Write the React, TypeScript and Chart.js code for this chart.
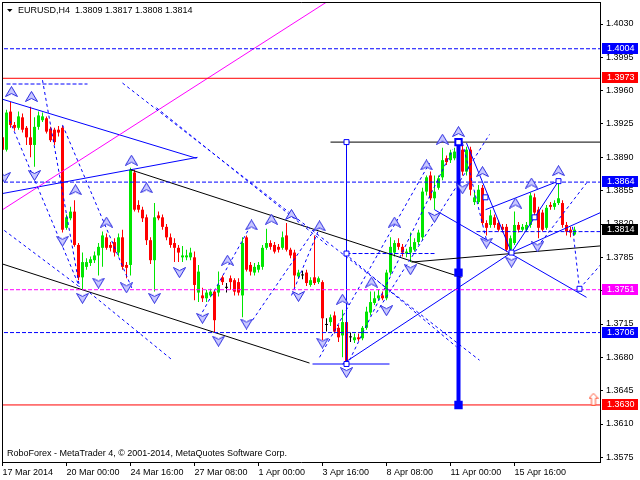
import React, { useEffect, useRef } from "react";
import { Chart, registerables } from "chart.js";

Chart.register(...registerables);

// ---------- text ----------
const symbolTitle = "EURUSD,H4";
const watermark = "RoboForex - MetaTrader 4, \u00A9 2001-2014, MetaQuotes Software Corp.";

// ---------- axes ----------
const xTickIndex = [0, 16, 32, 48, 64, 80, 96, 112, 128];
const xTickLabels = ["17 Mar 2014", "20 Mar 00:00", "24 Mar 16:00", "27 Mar 08:00", "1 Apr 00:00", "3 Apr 16:00", "8 Apr 08:00", "11 Apr 00:00", "15 Apr 16:00"];
const yTickValues = [1.403, 1.3995, 1.396, 1.3925, 1.389, 1.3855, 1.382, 1.3785, 1.375, 1.3715, 1.368, 1.3645, 1.361, 1.3575];
const yMin = 1.35701;
const yMax = 1.40531;
const xMin = -0.125;
const xMax = 149.375;

// ---------- candles (H4 bars) ----------
const opens = [1.3911,1.3898,1.3938,1.3924,1.3921,1.3932,1.3921,1.3911,1.3903,1.3922,1.3929,1.3931,1.3920,1.3919,1.3919,1.3921,1.3816,1.3826,1.3833,1.3798,1.3764,1.3775,1.3779,1.3782,1.3787,1.3795,1.3806,1.3798,1.3801,1.3790,1.3806,1.3777,1.3777,1.3874,1.3840,1.3835,1.3827,1.3803,1.3782,1.3829,1.3827,1.3817,1.3806,1.3800,1.3795,1.3785,1.3785,1.3785,1.3785,1.3748,1.3745,1.3742,1.3745,1.3749,1.3748,1.3764,1.3753,1.3763,1.3761,1.3759,1.3745,1.3806,1.3777,1.3769,1.3772,1.3775,1.3795,1.3800,1.3798,1.3796,1.3795,1.3808,1.3793,1.3790,1.3765,1.3766,1.3769,1.3756,1.3764,1.3759,1.3759,1.3714,1.3717,1.3724,1.3711,1.3703,1.3717,1.3701,1.3698,1.3701,1.3700,1.3711,1.3727,1.3737,1.3742,1.3745,1.3742,1.3769,1.3790,1.3800,1.3796,1.3789,1.3790,1.3793,1.3801,1.3806,1.3854,1.3871,1.3847,1.3858,1.3869,1.3889,1.3887,1.3889,1.3898,1.3898,1.3875,1.3898,1.3843,1.3843,1.3858,1.3821,1.3819,1.3827,1.3821,1.3817,1.3817,1.3793,1.3800,1.3819,1.3814,1.3814,1.3819,1.3848,1.3835,1.3832,1.3816,1.3840,1.3838,1.3842,1.3842,1.3819,1.3814,1.3809];
const highs = [1.3937,1.3940,1.3948,1.3927,1.3938,1.3936,1.3923,1.3943,1.3932,1.3938,1.3937,1.3933,1.3922,1.3921,1.3923,1.3923,1.3830,1.3838,1.3845,1.3800,1.3790,1.3784,1.3786,1.3791,1.3800,1.3812,1.3810,1.3801,1.3805,1.3810,1.3814,1.3780,1.3879,1.3877,1.3845,1.3838,1.3830,1.3806,1.3842,1.3833,1.3830,1.3820,1.3810,1.3805,1.3798,1.3797,1.3793,1.3795,1.3791,1.3777,1.3753,1.3751,1.3752,1.3751,1.3770,1.3766,1.3758,1.3766,1.3763,1.3763,1.3806,1.3808,1.3780,1.3779,1.3780,1.3798,1.3815,1.3803,1.3801,1.3799,1.3812,1.3821,1.3795,1.3793,1.3772,1.3771,1.3772,1.3764,1.3808,1.3765,1.3761,1.3721,1.3725,1.3728,1.3714,1.3730,1.3730,1.3706,1.3705,1.3705,1.3713,1.3733,1.3749,1.3749,1.3751,1.3749,1.3772,1.3806,1.3803,1.3805,1.3799,1.3794,1.3811,1.3805,1.3814,1.3858,1.3871,1.3875,1.3871,1.3871,1.3900,1.3892,1.3898,1.3900,1.3907,1.3903,1.3901,1.3901,1.3854,1.3861,1.3861,1.3824,1.3835,1.3830,1.3824,1.3820,1.3820,1.3808,1.3833,1.3822,1.3820,1.3822,1.3853,1.3852,1.3838,1.3835,1.3840,1.3843,1.3845,1.3866,1.3845,1.3822,1.3817,1.3817];
const lows = [1.3879,1.3896,1.3921,1.3918,1.3919,1.3916,1.3903,1.3890,1.3880,1.3919,1.3927,1.3915,1.3906,1.3903,1.3912,1.3811,1.3814,1.3824,1.3796,1.3761,1.3751,1.3772,1.3776,1.3779,1.3766,1.3775,1.3793,1.3791,1.3786,1.3786,1.3772,1.3763,1.3766,1.3833,1.3832,1.3822,1.3798,1.3778,1.3749,1.3824,1.3814,1.3803,1.3795,1.3780,1.3780,1.3780,1.3782,1.3782,1.3740,1.3738,1.3738,1.3738,1.3743,1.3706,1.3744,1.3756,1.3748,1.3751,1.3745,1.3745,1.3722,1.3770,1.3766,1.3766,1.3769,1.3772,1.3793,1.3793,1.3789,1.3790,1.3793,1.3791,1.3784,1.3753,1.3763,1.3762,1.3755,1.3754,1.3756,1.3757,1.3698,1.3707,1.3713,1.3705,1.3696,1.3680,1.3672,1.3696,1.3695,1.3697,1.3698,1.3709,1.3724,1.3735,1.3740,1.3740,1.3740,1.3766,1.3786,1.3793,1.3786,1.3785,1.3780,1.3791,1.3798,1.3803,1.3850,1.3845,1.3835,1.3856,1.3866,1.3882,1.3884,1.3887,1.3885,1.3871,1.3871,1.3850,1.3840,1.3841,1.3819,1.3808,1.3816,1.3816,1.3812,1.3811,1.3791,1.3791,1.3798,1.3811,1.3812,1.3812,1.3816,1.3828,1.3805,1.3812,1.3814,1.3835,1.3835,1.3840,1.3816,1.3808,1.3806,1.3808];
const closes = [1.3898,1.3937,1.3924,1.3921,1.3933,1.3919,1.3911,1.3903,1.3922,1.3934,1.3933,1.3917,1.3908,1.3906,1.3916,1.3814,1.3827,1.3833,1.3798,1.3764,1.3780,1.3780,1.3783,1.3787,1.3796,1.3808,1.3795,1.3795,1.3790,1.3806,1.3775,1.3774,1.3877,1.3835,1.3835,1.3826,1.3803,1.3782,1.3827,1.3826,1.3817,1.3806,1.3798,1.3795,1.3790,1.3787,1.3787,1.3790,1.3756,1.3770,1.3742,1.3748,1.3749,1.3719,1.3756,1.3759,1.3753,1.3759,1.3749,1.3748,1.3800,1.3772,1.3770,1.3775,1.3777,1.3795,1.3800,1.3796,1.3791,1.3793,1.3806,1.3793,1.3787,1.3766,1.3769,1.3766,1.3758,1.3761,1.3758,1.3763,1.3721,1.3714,1.3722,1.3707,1.3701,1.3717,1.3674,1.3701,1.3701,1.3699,1.3711,1.3728,1.3738,1.3742,1.3745,1.3742,1.3769,1.3796,1.3800,1.3796,1.3790,1.3791,1.3796,1.3801,1.3811,1.3854,1.3869,1.3847,1.3854,1.3868,1.3887,1.3885,1.3895,1.3896,1.3887,1.3875,1.3898,1.3856,1.3848,1.3856,1.3821,1.3816,1.3829,1.3819,1.3814,1.3814,1.3793,1.3805,1.3819,1.3814,1.3817,1.3819,1.3850,1.3832,1.3816,1.3814,1.3837,1.3838,1.3842,1.3847,1.3819,1.3812,1.3811,1.3814];

// ---------- horizontal levels ----------
const blueDashLevels = [1.4004, 1.3864, 1.3706];
const redLevels = [1.3973, 1.363];
const magentaDashLevels = [1.3751];
const priceTags = [1.4004, 1.3973, 1.3864, 1.3814, 1.3751, 1.3706, 1.363];

// ---------- drawn objects: [barIndex1, price1, barIndex2, price2] ----------
const trendBlue = [
  [0, 1.3951, 48.5, 1.3889],
  [0, 1.3852, 48.75, 1.389],
  [85, 1.3673, 127.25, 1.379],
  [127.25, 1.379, 149.5, 1.3832],
  [108, 1.3835, 146, 1.3743],
  [116, 1.3905, 127.25, 1.379],
  [120.75, 1.3835, 139, 1.3865],
  [127.25, 1.379, 139, 1.3865],
  [77.5, 1.3673, 96.75, 1.3673],
  [86, 1.3906, 86, 1.3673],
];
const trendBlack = [
  [32, 1.3877, 114.75, 1.3764],
  [0, 1.3778, 76.75, 1.3674],
  [102.25, 1.378, 149.5, 1.3797],
  [82, 1.3906, 149.5, 1.3906],
];
const trendMagenta = [[0, 1.3835, 81, 1.4053]];
const shortDashBlue = [
  [1, 1.3967, 21.25, 1.3967],
  [86, 1.3789, 108, 1.3789],
  [118.5, 1.3812, 149.5, 1.3812],
];
const waveBlue = [
  [10, 1.3971, 19.25, 1.3754],
  [15, 1.3924, 32.5, 1.3751],
  [1.75, 1.3929, 19.25, 1.3754],
  [-0.75, 1.3817, 19.25, 1.3754],
  [21.75, 1.3748, 42.5, 1.3677],
  [30, 1.3968, 119.25, 1.3677],
  [38.5, 1.3942, 81.75, 1.3796],
  [49.25, 1.3722, 61.75, 1.3816],
  [62.5, 1.3719, 78.5, 1.3817],
  [72.25, 1.3745, 79.25, 1.3816],
  [79.25, 1.368, 106.75, 1.3884],
  [86.75, 1.3677, 112.5, 1.3898],
  [93.5, 1.3727, 121.75, 1.3914],
  [115, 1.3905, 121, 1.3803],
  [86.75, 1.3785, 113.5, 1.3691],
  [142.5, 1.3817, 144.25, 1.3752],
  [144.25, 1.3752, 149.5, 1.3777],
  [133.75, 1.3796, 146, 1.3863],
];
const targetBar = [114, 1.3906, 114, 1.363];

const upArrows = [[2.25,1.3959],[7.25,1.3954],[18.25,1.3856],[26,1.3822],[32.25,1.3887],[36,1.3858],[56.25,1.3782],[62.25,1.3819],[67.25,1.3825],[72.25,1.383],[79.25,1.3818],[85,1.3741],[92.25,1.3759],[98,1.3822],[106,1.3882],[110,1.3909],[114,1.3917],[120,1.3875],[128.25,1.3842],[132.25,1.3863],[139,1.3876]];
const downArrows = [[0.5,1.3869],[8,1.3871],[15,1.3802],[20,1.3742],[24,1.3758],[31,1.3753],[38,1.3742],[44.25,1.3769],[50,1.3721],[54,1.3697],[61,1.3715],[74,1.3744],[80,1.3695],[86,1.3664],[96,1.3729],[102,1.3772],[108,1.3827],[115,1.3857],[121,1.38],[127.25,1.378],[133.75,1.3796]];
const smallSquares = [[86,1.3906],[86,1.3789],[86,1.3673],[120.75,1.3848],[133,1.3827],[139,1.3865],[144.25,1.3752],[127.25,1.379]];
const targetMarks = [[114,1.3906],[114,1.3769],[114,1.363]];
const alertMarks = [[147.75,1.3636]];

// ---------- styles ----------
const GREEN = "#00e600";
const RED = "#ff0000";
const BLUE = "#0000ff";
const MAGENTA = "#ff00ff";
const FONT = "'Liberation Sans', Arial, sans-serif";
const tagColors = [BLUE, RED, BLUE, "#000000", MAGENTA, BLUE, RED];

function makeArrow(up: boolean) {
  const c = document.createElement("canvas");
  c.width = 13;
  c.height = 11;
  const g = c.getContext("2d")!;
  g.beginPath();
  if (up) {
    g.moveTo(6.5, 0.5); g.lineTo(12.5, 10.5); g.lineTo(6.5, 7.5); g.lineTo(0.5, 10.5);
  } else {
    g.moveTo(6.5, 10.5); g.lineTo(12.5, 0.5); g.lineTo(6.5, 3.5); g.lineTo(0.5, 0.5);
  }
  g.closePath();
  g.fillStyle = "#c8c8ff";
  g.fill();
  g.strokeStyle = "#2a2ae0";
  g.lineWidth = 1;
  g.stroke();
  return c;
}

function makeHollowArrow() {
  const c = document.createElement("canvas");
  c.width = 10;
  c.height = 13;
  const g = c.getContext("2d")!;
  g.beginPath();
  g.moveTo(5, 0.5); g.lineTo(9.5, 5.5); g.lineTo(7, 5.5); g.lineTo(7, 12.5);
  g.lineTo(3, 12.5); g.lineTo(3, 5.5); g.lineTo(0.5, 5.5);
  g.closePath();
  g.fillStyle = "#ffffff";
  g.fill();
  g.strokeStyle = "#ff5a3c";
  g.lineWidth = 1;
  g.stroke();
  return c;
}

const fmt = (v: number) => v.toFixed(4);

export default function App() {
  const ref = useRef<HTMLCanvasElement>(null);

  useEffect(() => {
    const canvas = ref.current!;
    const last = opens.length - 1;
    const candleColors = opens.map((o, i) => (closes[i] > o ? GREEN : closes[i] < o ? RED : "#000000"));

    const datasets: any[] = [];
    const lineDs = (s: number[], color: string, width: number, dash: number[]) => ({
      type: "line",
      data: [{ x: s[0], y: s[1] }, { x: s[2], y: s[3] }],
      borderColor: color,
      borderWidth: width,
      borderDash: dash,
      pointRadius: 0,
      fill: false,
      tension: 0,
      order: 5,
    });
    const level = (p: number, color: string, dash: number[]) => lineDs([xMin - 1, p, xMax + 1, p], color, 1, dash);

    blueDashLevels.forEach((p) => datasets.push(level(p, BLUE, [4, 2])));
    redLevels.forEach((p) => datasets.push(level(p, RED, [])));
    magentaDashLevels.forEach((p) => datasets.push(level(p, MAGENTA, [4, 2])));
    shortDashBlue.forEach((s) => datasets.push(lineDs(s, BLUE, 1, [4, 2])));
    waveBlue.forEach((s) => datasets.push(lineDs(s, BLUE, 1, [3, 3])));
    trendBlack.forEach((s) => datasets.push(lineDs(s, "#000000", 1, [])));
    trendMagenta.forEach((s) => datasets.push(lineDs(s, MAGENTA, 1, [])));
    trendBlue.forEach((s) => datasets.push(lineDs(s, BLUE, 1, [])));
    datasets.push(lineDs(targetBar, BLUE, 4, []));

    datasets.push({
      type: "bar",
      data: opens.map((_, i) => ({ x: i, y: [lows[i], highs[i]] })),
      backgroundColor: candleColors,
      borderWidth: 0,
      barThickness: 1,
      grouped: false,
      inflateAmount: 0,
      order: 20,
    });
    datasets.push({
      type: "bar",
      data: opens.map((o, i) => ({ x: i, y: [o, closes[i]] })),
      backgroundColor: candleColors,
      borderWidth: 0,
      barThickness: 3,
      minBarLength: 1,
      grouped: false,
      inflateAmount: 0,
      order: 19,
    });

    const upImg = makeArrow(true);
    const downImg = makeArrow(false);
    const hollow = makeHollowArrow();
    const pts = (arr: number[][]) => arr.map((p) => ({ x: p[0], y: p[1] }));
    datasets.push({ type: "scatter", data: pts(upArrows), pointStyle: upImg, pointRadius: 5, order: 1 });
    datasets.push({ type: "scatter", data: pts(downArrows), pointStyle: downImg, pointRadius: 5, order: 1 });
    datasets.push({ type: "scatter", data: pts(smallSquares), pointStyle: "rect", pointRadius: 3.5, backgroundColor: "#ffffff", borderColor: BLUE, borderWidth: 1, order: 1 });
    datasets.push({ type: "scatter", data: pts(targetMarks), pointStyle: "rect", pointRadius: 4.5, backgroundColor: ["#ffffff", BLUE, BLUE], borderColor: BLUE, borderWidth: 2, order: 1 });
    datasets.push({ type: "scatter", data: pts(alertMarks), pointStyle: hollow, pointRadius: 5, order: 1 });

    const title = `${symbolTitle}  ${fmt(opens[last])} ${fmt(highs[last])} ${fmt(lows[last])} ${fmt(closes[last])}`;

    const overlay = {
      id: "mtOverlay",
      beforeDraw(chart: any) {
        const c = chart.ctx;
        c.save();
        c.fillStyle = "#ffffff";
        c.fillRect(0, 0, chart.width, chart.height);
        c.restore();
      },
      afterDraw(chart: any) {
        const { ctx, chartArea: a, scales } = chart;
        ctx.save();
        ctx.strokeStyle = "#000000";
        ctx.lineWidth = 1;
        ctx.beginPath();
        ctx.moveTo(a.left + 0.5, a.top + 0.5);
        ctx.lineTo(a.right + 1, a.top + 0.5);
        ctx.moveTo(a.left + 0.5, a.top);
        ctx.lineTo(a.left + 0.5, a.bottom + 1);
        ctx.stroke();

        ctx.fillStyle = "#000000";
        ctx.beginPath();
        ctx.moveTo(7, 9);
        ctx.lineTo(12.5, 9);
        ctx.lineTo(9.75, 12);
        ctx.closePath();
        ctx.fill();
        ctx.font = `9px ${FONT}`;
        ctx.textBaseline = "middle";
        ctx.textAlign = "left";
        ctx.fillText(title, 18, 10.5);
        ctx.fillText(watermark, 7, 454);

        priceTags.forEach((v, i) => {
          const py = Math.round(scales.y.getPixelForValue(v));
          ctx.fillStyle = tagColors[i];
          ctx.fillRect(602, py - 6, 36, 11);
          ctx.fillStyle = "#ffffff";
          ctx.fillText(fmt(v), 607, py);
        });
        ctx.restore();
      },
    };

    const chart = new Chart(canvas, {
      type: "bar",
      data: { datasets },
      options: {
        animation: false,
        responsive: false,
        events: [],
        layout: { autoPadding: false, padding: { left: 2, top: 2, right: 0, bottom: 0 } },
        plugins: { legend: { display: false }, tooltip: { enabled: false }, title: { display: false } },
        scales: {
          x: {
            type: "linear",
            position: "bottom",
            min: xMin,
            max: xMax,
            offset: false,
            grid: { display: true, drawOnChartArea: false, drawTicks: true, tickLength: 4, color: "#000000", offset: false },
            border: { display: true, color: "#000000", width: 1 },
            ticks: {
              autoSkip: false,
              maxRotation: 0,
              minRotation: 0,
              align: "start",
              padding: 1,
              color: "#000000",
              font: { family: FONT, size: 9 },
              callback: (v: any) => {
                const k = xTickIndex.indexOf(Number(v));
                return k >= 0 ? xTickLabels[k] : "";
              },
            },
            afterBuildTicks: (axis: any) => {
              axis.ticks = xTickIndex.map((v) => ({ value: v }));
            },
            afterFit: (axis: any) => {
              axis.height = 18;
              axis.paddingLeft = 0;
              axis.paddingRight = 0;
              axis.paddingTop = 0;
              axis.paddingBottom = 0;
            },
          },
          y: {
            type: "linear",
            position: "right",
            min: yMin,
            max: yMax,
            grid: { display: true, drawOnChartArea: false, drawTicks: true, tickLength: 3, color: "#000000" },
            border: { display: true, color: "#000000", width: 1 },
            ticks: {
              autoSkip: false,
              padding: 3,
              color: "#000000",
              font: { family: FONT, size: 9 },
              callback: (v: any) => Number(v).toFixed(4),
            },
            afterBuildTicks: (axis: any) => {
              axis.ticks = yTickValues.map((v) => ({ value: v }));
            },
            afterFit: (axis: any) => {
              axis.width = 40;
              axis.paddingLeft = 0;
              axis.paddingRight = 0;
              axis.paddingTop = 0;
              axis.paddingBottom = 0;
            },
          },
        },
      } as any,
      plugins: [overlay],
    } as any);

    return () => chart.destroy();
  }, []);

  return (
    <div style={{ position: "fixed", left: 0, top: 0, width: 640, height: 480, background: "#ffffff" }}>
      <canvas ref={ref} width={640} height={480} style={{ display: "block" }} />
    </div>
  );
}
